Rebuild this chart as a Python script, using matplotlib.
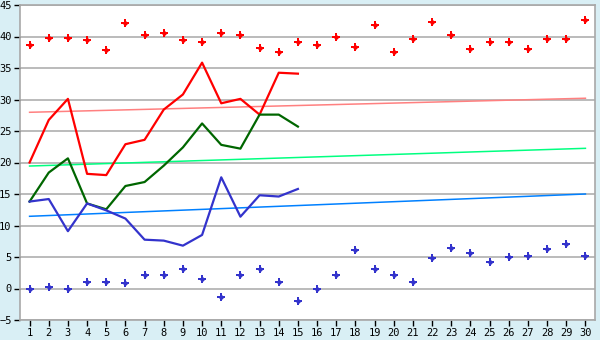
import matplotlib
matplotlib.use("Agg")
import matplotlib.pyplot as plt
import numpy as np

days = list(range(1, 31))

max_points = [38.6, 39.7, 39.7, 39.4, 37.8, 42.1, 40.2, 40.5, 39.4, 39.1,
              40.5, 40.3, 38.1, 37.5, 39.1, 38.6, 40.0, 38.4, 41.9, 37.5,
              39.55, 42.25, 40.2, 37.96, 39.1, 39.1, 37.96, 39.55, 39.55, 42.57]
min_points = [0.0, 0.2, 0.0, 1.0, 1.0, 0.83, 2.1, 2.1, 3.05, 1.46,
              -1.4, 2.1, 3.05, 1.0, -2.03, 0.0, 2.1, 6.06, 3.05, 2.1,
              1.0, 4.8, 6.4, 5.63, 4.2, 5.0, 5.16, 6.27, 7.06, 5.16]

line_days = list(range(1, 16))
red_line = [20.0, 26.75, 30.1, 18.2, 18.0, 22.9, 23.6, 28.4, 30.8, 35.85,
            29.4, 30.1, 27.6, 34.25, 34.1]
green_line = [13.8, 18.4, 20.66, 13.5, 12.57, 16.27, 16.9, 19.5, 22.4, 26.2,
              22.8, 22.2, 27.6, 27.6, 25.7]
blue_line = [13.8, 14.2, 9.1, 13.5, 12.4, 11.1, 7.75, 7.6, 6.8, 8.5,
             17.65, 11.4, 14.8, 14.6, 15.8]

trend_days = [1, 30]
red_trend = [27.97, 30.2]
green_trend = [19.44, 22.25]
blue_trend = [11.46, 15.0]

y_ticks = [-5, 0, 5, 10, 15, 20, 25, 30, 35, 40, 45]

bg = "#D9EFF5"
fig = plt.figure(figsize=(6.0, 3.4), dpi=100, facecolor=bg)
ax = fig.add_axes([20/600, 20/340, 575/600, 315/340])
ax.set_facecolor("white")

for y in y_ticks:
    ax.axhline(y, color="#A8A8A8", lw=1.1, zorder=1)

ax.plot(trend_days, red_trend, color="#FF8080", lw=1.1, zorder=2)
ax.plot(trend_days, green_trend, color="#00FF80", lw=1.1, zorder=2)
ax.plot(trend_days, blue_trend, color="#0080FF", lw=1.1, zorder=2)

ax.plot(line_days, red_line, color="#FF0000", lw=1.6, zorder=3)
ax.plot(line_days, green_line, color="#006600", lw=1.6, zorder=3)
ax.plot(line_days, blue_line, color="#3333CC", lw=1.6, zorder=3)

for pts, col in ((max_points, "#FF0000"), (min_points, "#3333CC")):
    ax.plot(days, pts, ls="none", marker="P", ms=5.2, color=col, mew=0, zorder=4)
    ax.plot(days, pts, ls="none", marker="D", ms=3.0, color=col, mew=0, zorder=4)

ax.set_xlim(0.5, 30.5)
ax.set_ylim(-5, 45)
ax.set_xticks(days)
ax.set_xticklabels([str(d) for d in days])
ax.set_yticks(y_ticks)
ax.set_yticklabels([str(v).replace("-", "\u2212") if v < 0 else str(v) for v in y_ticks])

for s in ax.spines.values():
    s.set_color("#A8A8A8")
    s.set_linewidth(1.2)

ax.tick_params(axis="both", which="both", length=4, width=1, color="black",
               labelsize=7.5, labelcolor="black", pad=2)
for lab in ax.get_xticklabels() + ax.get_yticklabels():
    lab.set_family("DejaVu Sans Mono")

fig.savefig("out.png", dpi=100, facecolor=bg)
